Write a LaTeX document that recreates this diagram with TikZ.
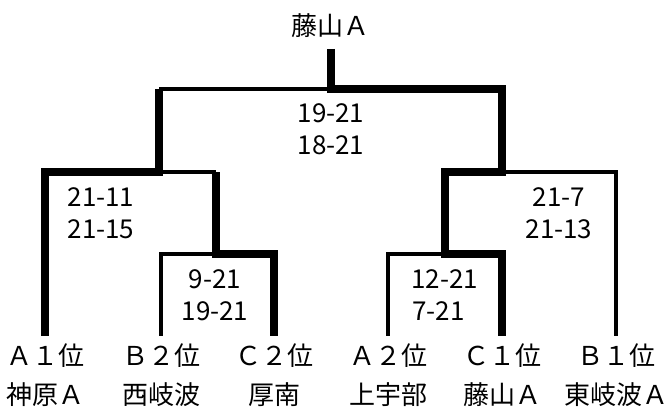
\documentclass[tikz,border=0pt]{standalone}
\usepackage{fontspec}
\setmainfont{Noto Sans CJK JP}
\begin{document}
\begin{tikzpicture}[x=1pt,y=-1pt,
  win/.style={line width=8pt},
  lose/.style={line width=3.5pt},
  lbl/.style={inner sep=0pt,font=\fontsize{26}{30}\selectfont},
  score/.style={inner sep=0pt,font=\fontsize{26}{30}\selectfont}]
\useasboundingbox (0,0) rectangle (669,409);
% junction coordinates
\coordinate (top) at (331,49);
\coordinate (F)   at (331,89);
\coordinate (FL)  at (159,89);
\coordinate (FR)  at (502,89);
\coordinate (SL)  at (159,172);
\coordinate (SLa) at (45,172);
\coordinate (SLb) at (216,172);
\coordinate (SR)  at (502,172);
\coordinate (SRa) at (445,172);
\coordinate (SRb) at (616,172);
\coordinate (QL)  at (216,254);
\coordinate (QLa) at (161,254);
\coordinate (QLb) at (274,254);
\coordinate (QR)  at (445,254);
\coordinate (QRa) at (388,254);
\coordinate (QRb) at (502,254);
\coordinate (e1) at (45,336);
\coordinate (e2) at (161,336);
\coordinate (e3) at (274,336);
\coordinate (e4) at (388,336);
\coordinate (e5) at (502,336);
\coordinate (e6) at (616,336);
% champion
\node[lbl] (champ) at (330,26) {藤山Ａ};
% losing (thin) lines
\draw[lose] (FL) -- (F);
\draw[lose] (SL) -- (SLb);
\draw[lose] (QL) -- (QLa) -- (e2);
\draw[lose] (SR) -- (SRb) -- (e6);
\draw[lose] (QR) -- (QRa) -- (e4);
% winning (thick) lines
\draw[win] (top) -- (F) -- (FR) -- (SR) -- (SRa) -- (QR) -- (QRb) -- (e5);
\draw[win] (FL) -- (SL) -- (SLa) -- (e1);
\draw[win] (SLb) -- (QL) -- (QLb) -- (e3);
% scores
\node[score] (f1) at (331,113.5) {19-21};
\node[score] (f2) at (331,145.5) {18-21};
\node[score] (sl1) at (101,197) {21-11};
\node[score] (sl2) at (101,229) {21-15};
\node[score] (sr1) at (559,197) {21-7};
\node[score] (sr2) at (559,229) {21-13};
\node[score] (ql1) at (215,279) {9-21};
\node[score] (ql2) at (215,311) {19-21};
\node[score,anchor=west] (qr1) at (411,279) {12-21};
\node[score,anchor=west] (qr2) at (412,311) {7-21};
% seeds
\node[lbl] (p1) at (45,356) {Ａ１位};
\node[lbl] (p2) at (161,356) {Ｂ２位};
\node[lbl] (p3) at (274,356) {Ｃ２位};
\node[lbl] (p4) at (388,356) {Ａ２位};
\node[lbl] (p5) at (502,356) {Ｃ１位};
\node[lbl] (p6) at (616,356) {Ｂ１位};
% teams
\node[lbl] (t1) at (45,395) {神原Ａ};
\node[lbl] (t2) at (161,395) {西岐波};
\node[lbl] (t3) at (274,395) {厚南};
\node[lbl] (t4) at (388,395) {上宇部};
\node[lbl] (t5) at (502,395) {藤山Ａ};
\node[lbl] (t6) at (616,395) {東岐波Ａ};
\end{tikzpicture}
\end{document}
